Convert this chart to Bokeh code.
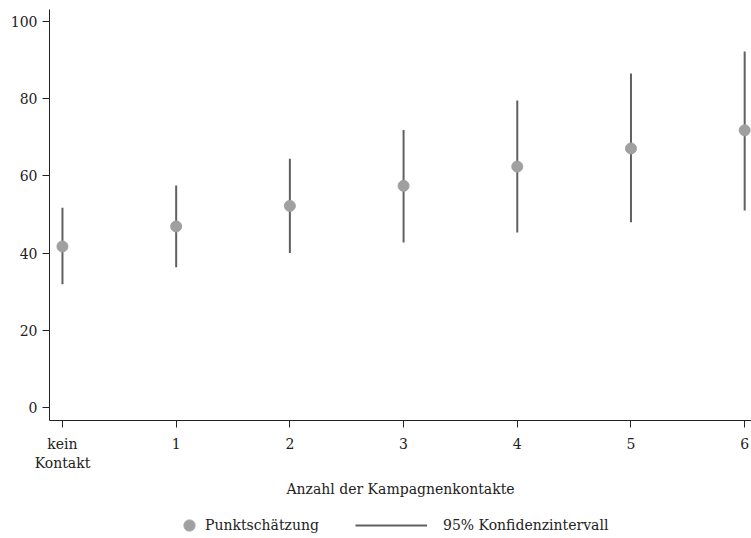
from bokeh.plotting import figure
from bokeh.layouts import column
from bokeh.models import FixedTicker, Range1d, Legend, LegendItem, ColumnDataSource
from bokeh.embed import file_html
from bokeh.resources import INLINE

# Data
categories = ["kein\nKontakt", "1", "2", "3", "4", "5", "6"]
x_pos = [0, 1, 2, 3, 4, 5, 6]
estimate = [41.7, 46.9, 52.2, 57.4, 62.4, 67.1, 71.8]
lower = [31.9, 36.3, 40.0, 42.7, 45.3, 48.0, 51.0]
upper = [51.7, 57.5, 64.4, 71.9, 79.5, 86.5, 92.2]
y_ticks = [0, 20, 40, 60, 80, 100]
x_title = "Anzahl der Kampagnenkontakte"
legend_labels = ["Punktschätzung", "95% Konfidenzintervall"]

FONT = "DejaVu Serif"
FS = "14px"
TXT = "#222222"
PT_COLOR = "#a0a0a0"
LN_COLOR = "#606060"

src = ColumnDataSource(dict(x=x_pos, est=estimate, lo=lower, hi=upper))

p = figure(frame_width=702, frame_height=411, output_backend="svg", toolbar_location=None,
           x_range=Range1d(-0.114, 6.06), y_range=Range1d(-3.4, 103.1),
           min_border_left=49, min_border_right=0, min_border_top=9,
           min_border_bottom=85)
p.outline_line_color = None
p.xgrid.visible = False
p.ygrid.visible = False

seg = p.segment(x0="x", y0="lo", x1="x", y1="hi", source=src,
                line_color=LN_COLOR, line_width=2)
pts = p.scatter(x="x", y="est", source=src, size=11,
                fill_color=PT_COLOR, line_color=PT_COLOR)

for ax in (p.xaxis[0], p.yaxis[0]):
    ax.axis_line_color = "#222222"
    ax.major_tick_line_color = "#222222"
    ax.major_tick_out = 7
    ax.major_tick_in = 0
    ax.minor_tick_line_color = None
    ax.major_label_text_font = FONT
    ax.major_label_text_font_size = FS
    ax.major_label_text_color = TXT
    ax.major_label_standoff = 5

p.xaxis.ticker = FixedTicker(ticks=x_pos)
p.xaxis.major_label_overrides = {x: c for x, c in zip(x_pos, categories)}
p.xaxis.major_label_standoff = 8
p.xaxis.axis_label = x_title
p.xaxis.axis_label_text_font = FONT
p.xaxis.axis_label_text_font_size = FS
p.xaxis.axis_label_text_font_style = "normal"
p.xaxis.axis_label_text_color = TXT
p.xaxis.axis_label_standoff = 7

p.yaxis.ticker = FixedTicker(ticks=y_ticks)

# Legend strip below the chart (its ranges show none of the marks; only the legend is visible)
p2 = figure(frame_width=751, frame_height=33, output_backend="svg", toolbar_location=None,
            x_range=Range1d(100, 101), y_range=Range1d(1000, 1001),
            x_axis_type=None, y_axis_type=None,
            min_border_left=0, min_border_right=0, min_border_top=0, min_border_bottom=0)
p2.outline_line_color = None
p2.xgrid.visible = False
p2.ygrid.visible = False
pts_l = p2.scatter(x="x", y="est", source=src, size=11,
                   fill_color=PT_COLOR, line_color=PT_COLOR)
seg_l = p2.segment(x0="x", y0="lo", x1="x", y1="hi", source=src,
                   line_color=LN_COLOR, line_width=2)

def mk_legend(items, loc, gw, standoff):
    lg = Legend(items=items, location=loc, orientation="horizontal",
                glyph_width=gw, glyph_height=28, label_height=28,
                label_standoff=standoff, padding=0, margin=0, spacing=0,
                border_line_color=None, background_fill_alpha=0,
                label_text_font=FONT, label_text_font_size=FS,
                label_text_color=TXT)
    p2.add_layout(lg, "center")

mk_legend([LegendItem(label=legend_labels[0], renderers=[pts_l])], (175, -1), 28, 2)
mk_legend([LegendItem(label=legend_labels[1], renderers=[seg_l])], (355, -1), 72, 16)

layout = column(p, p2, spacing=0)
open("out.html", "w").write(file_html(layout, INLINE))
